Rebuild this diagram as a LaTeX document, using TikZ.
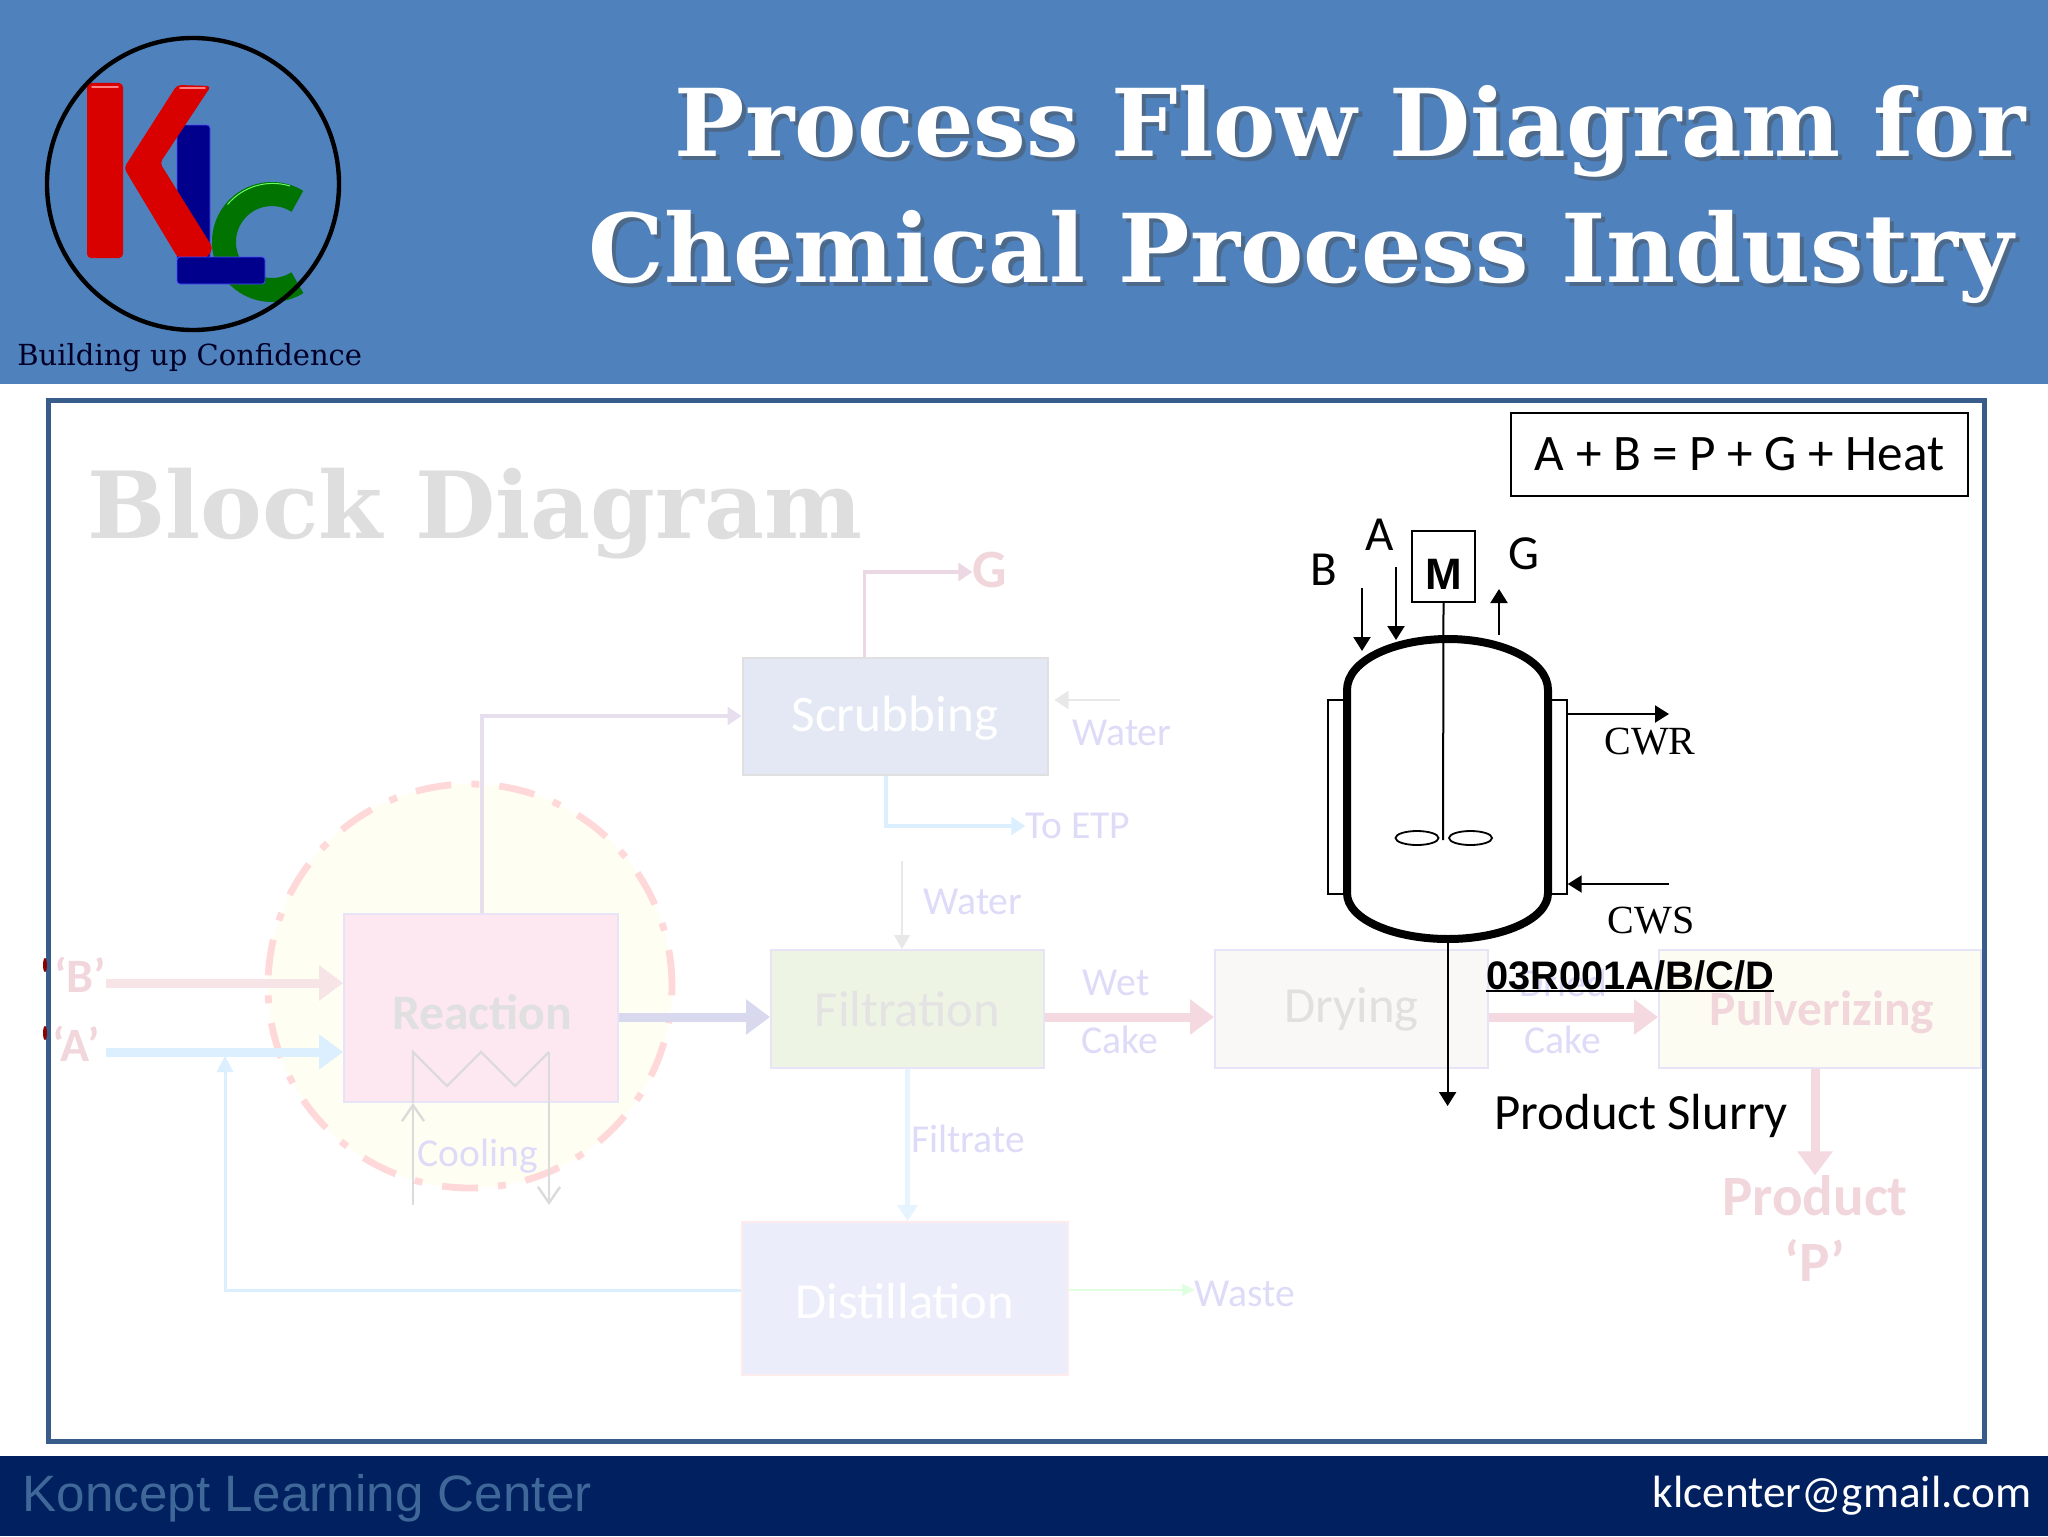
\documentclass[tikz,border=0pt]{standalone}
\usepackage{fontspec}
\setmainfont{Carlito}
\newfontfamily\arialf{Liberation Sans}
\newfontfamily\timesf{Liberation Serif}
\newfontfamily\bookf{DejaVu Serif}
\usetikzlibrary{arrows.meta,shapes.geometric}
\definecolor{hdr}{HTML}{4F81BD}
\definecolor{ftr}{HTML}{002060}
\definecolor{frm}{HTML}{385D8A}
\definecolor{lbl}{HTML}{DEDBF8}
\definecolor{bdr}{HTML}{E6E4F6}
\definecolor{palered}{HTML}{F1D6DC}
\tikzset{
 blockbox/.style={draw=#1,line width=1pt,inner sep=0pt,font=\fontsize{25.3}{30}\selectfont},
 lab/.style={text=lbl,inner sep=0pt,font=\fontsize{19.8}{23}\selectfont},
 fat/.style={draw=#1,line width=4.5pt,-{Triangle[length=12pt,width=17pt,fill=#1]}},
 med/.style={draw=#1,line width=1.6pt,-{Triangle[length=7pt,width=9pt,fill=#1]}},
 blk/.style={draw=black,line width=1.1pt,-{Triangle[length=7pt,width=8.5pt]}},
 ctext/.style={inner sep=0pt,font=\fontsize{24.5}{29}\selectfont},
 ttext/.style={inner sep=0pt,font=\timesf\fontsize{20}{24}\selectfont},
 boldpale/.style={text=#1,inner sep=0pt,font=\bfseries\fontsize{28.5}{33}\selectfont},
 titletext/.style={text=white,inner sep=0pt,anchor=base east,font=\bookf\bfseries\fontsize{#1}{54}\selectfont},
}
\begin{document}
\begin{tikzpicture}[x=0.5pt,y=-0.5pt]
\useasboundingbox (0,0) rectangle (2048,1536);
\fill[white] (0,0) rectangle (2048,1536);
% header and footer
\fill[hdr] (0,0) rectangle (2048,384);
\fill[ftr] (0,1456) rectangle (2048,1536);
% logo
\fill[blue!55!black,draw=blue!70!white,line width=.4pt,rounded corners=1.5pt] (177,125) rectangle (210,262);
\draw[green!45!black,line width=12pt] (297.4,201.3) arc[start angle=58,end angle=302,radius=24pt];
\draw[green!60!white,line width=.5pt] (290,186) arc[start angle=73,end angle=140,radius=29.5pt];
\fill[red!85!black,rounded corners=2pt] (87,83) rectangle (123,258);
\fill[red!85!black,rounded corners=2pt] (177,85) -- (211,86) -- (160,163) -- (213,248) -- (207,258) -- (178,258) -- (124,168) -- cycle;
\draw[red!50!white,line width=.8pt,line cap=round] (92,87) -- (118,87);
\draw[red!50!white,line width=.8pt,line cap=round] (180,88) -- (205,88);
\fill[blue!55!black,draw=blue!70!white,line width=.4pt,rounded corners=1.5pt] (177,257) rectangle (265,284);
\node[draw=black,line width=2.2pt,circle,minimum size=146pt,inner sep=0pt] (logo) at (193,184) {};
\node[inner sep=0pt,anchor=base west,text=black!85!blue,font=\bookf\fontsize{14.5}{17}\selectfont] (tag) at (17,365) {Building up Confidence};
% title
\node[titletext=46.8,text=black!70,opacity=.45] (titleAs) at (2030,160) {Process Flow Diagram for};
\node[titletext=47.5,text=black!70,opacity=.45] (titleBs) at (2018,286) {Chemical Process Industry};
\node[titletext=46.8] (titleA) at (2026,156) {Process Flow Diagram for};
\node[titletext=47.5] (titleB) at (2014,282) {Chemical Process Industry};
% frame
\draw[frm,line width=2.5pt] (48,400) rectangle (1984,1441);
% pale block diagram
\node[inner sep=0pt,anchor=west,text=black!13,font=\bookf\bfseries\fontsize{46.3}{54}\selectfont] (bd) at (87,514) {Block Diagram};
\node[circle,draw=none,fill=yellow!5,minimum size=202pt,inner sep=0pt] (zonefill) at (470,986) {};
\draw[draw=red!15,line width=3.4pt,dash pattern=on 18pt off 10pt on 4pt off 10pt] (470,986) circle[radius=101pt];
\definecolor{fR}{HTML}{FDE7F0}
\definecolor{fS}{HTML}{E3E8F4}
\definecolor{fF}{HTML}{EEF4E4}
\definecolor{fD}{HTML}{F9F8F6}
\definecolor{fP}{HTML}{FDFCF3}
\definecolor{fT}{HTML}{ECEDFA}
\node[blockbox=bdr,fill=fR,minimum width=137pt,minimum height=94pt] (reaction) at (481,1008) {};
\node[blockbox=black!12,fill=fS,minimum width=152.5pt,minimum height=58.5pt] (scrub) at (895,716.5) {};
\node[inner sep=0pt,text=white,font=\fontsize{25.6}{30}\selectfont] (scrublab) at (895,718) {Scrubbing};
\node[blockbox=bdr,fill=fF,minimum width=136.5pt,minimum height=59pt,text=black!11] (filt) at (907.5,1009) {Filtration};
\node[blockbox=bdr,fill=fD,minimum width=136.5pt,minimum height=59pt,text=black!12] (dry) at (1351.5,1009) {Drying};
\node[blockbox=bdr,fill=fP,minimum width=161pt,minimum height=59pt] (pulv) at (1820,1009) {};
\node[inner sep=0pt,text=palered,font=\bfseries\fontsize{24.7}{29}\selectfont] (pulvlab) at (1822,1012) {Pulverizing};
\node[blockbox=red!8,fill=fT,minimum width=163pt,minimum height=76.5pt] (dist) at (905,1298.5) {};
\node[inner sep=0pt,text=white,font=\fontsize{25.3}{30}\selectfont] (distlab) at (905,1301) {Distillation};
\node[inner sep=0pt,text=black!12,font=\bfseries\fontsize{24.8}{29}\selectfont] (reactlab) at (482,1012) {Reaction};
% pale labels
\node[boldpale=palered,font=\bfseries\fontsize{27}{32}\selectfont] (gout) at (990,570) {G};
\node[boldpale=palered,font=\bfseries\fontsize{24}{28}\selectfont] (feedBl) at (80,975) {‘B’};
\node[boldpale=palered,font=\bfseries\fontsize{24}{28}\selectfont] (feedAl) at (76,1044) {‘A’};
\node[boldpale=palered] (prod) at (1815,1196) {Product};
\node[boldpale=palered] (prodp) at (1815,1260) {‘P’};
\node[lab] (water1) at (1122,733) {Water};
\node[lab] (toetp) at (1078,826) {To ETP};
\node[lab] (water2) at (973,902) {Water};
\node[lab] (wet) at (1116,983) {Wet};
\node[lab] (cake1) at (1120,1040) {Cake};
\node[lab] (dried) at (1563,983) {Dried};
\node[lab] (cake2) at (1563,1040) {Cake};
\node[lab] (filtrate) at (968,1139) {Filtrate};
\node[lab] (waste) at (1245,1294) {Waste};
\node[lab] (cooling) at (478,1156) {Cooling};
% free ends
\coordinate (bstart) at (106,983);
\coordinate (astart) at (106,1052);
\coordinate (recyc) at (225,1290);
\coordinate (ajoin) at (225,1056);
\coordinate (scrin) at (482,716);
\coordinate (gup) at (864.5,572);
\coordinate (watA) at (1120,700);
\coordinate (etpc) at (886,826);
\coordinate (watB) at (902,861);
\coordinate (mainline) at (1000,1017);
\coordinate (coolin) at (413,1205);
\coordinate (coolhead) at (413,1103);
\coordinate (c1) at (413,1052);
\coordinate (c2) at (447,1086);
\coordinate (c3) at (481,1052);
\coordinate (c4) at (515,1086);
\coordinate (c5) at (549,1052);
\coordinate (coolout) at (549,1205);
% pale connectors
\definecolor{cB}{HTML}{F6E4E6}
\definecolor{cA}{HTML}{DCEFFF}
\definecolor{cM}{HTML}{D8D8EE}
\definecolor{cW}{HTML}{F4D9E0}
\definecolor{cS}{HTML}{E8DFEE}
\definecolor{cG}{HTML}{EBD8E4}
\draw[fat=cB] (bstart) -- (reaction.west |- bstart);
\draw[fat=cA] (astart) -- (reaction.west |- astart);
\draw[draw=cA,line width=1.5pt,-{Triangle[length=8pt,width=8pt,fill=cA]}] (dist.west |- recyc) -- (recyc) -- (ajoin);
\draw[fat=cM] (reaction.east |- mainline) -- (filt.west |- mainline);
\draw[med=cS] (reaction.north -| scrin) -- (scrin) -- (scrub.west |- scrin);
\draw[med=cG] (scrub.north -| gup) -- (gup) -- (gup -| gout.west) ;
\draw[draw=black!9,line width=1.2pt,-{Triangle[length=7pt,width=9pt,fill=black!9]}] (watA) -- ([xshift=3pt]scrub.east |- watA);
\draw[med=cA] (scrub.south -| etpc) -- (etpc) -- (toetp.west);
\draw[draw=black!9,line width=.7pt,-{Triangle[length=7pt,width=8pt,fill=black!9]}] (watB) -- (filt.north -| watB);
\draw[fat=cW] (filt.east |- mainline) -- (dry.west |- mainline);
\draw[fat=cW] (dry.east |- mainline) -- (pulv.west |- mainline);
\draw[fat=cW] (pulv.south -| prod) -- (prod.north);
\draw[draw=cA!70!white,line width=2.5pt,-{Triangle[length=8pt,width=10pt,fill=cA!70!white]}] (filt.south) -- (dist.north -| filt.south);
\draw[draw=green!12,line width=.8pt,-{Triangle[length=6pt,width=6pt,fill=green!12]}] (dist.east |- recyc) -- (waste.west |- recyc);
\draw[draw=black!14,line width=1.2pt,-{Straight Barb[length=8pt,width=11pt]}] (coolin) -- (coolhead);
\draw[draw=black!14,line width=1.2pt] (coolhead) -- (c1) -- (c2) -- (c3) -- (c4) -- (c5);
\draw[draw=black!14,line width=1.2pt,-{Straight Barb[length=8pt,width=11pt]}] (c5) -- (coolout);
% specks of the opening quotes, showing at the frame
\fill[red!55!black] (45,965) ellipse[x radius=2,y radius=7];
\fill[red!55!black] (45,1033) ellipse[x radius=2,y radius=7];
% reaction equation
\node[draw=black,line width=1pt,fill=white,minimum width=228.5pt,minimum height=41.5pt,inner sep=0pt,font=\fontsize{25.6}{30}\selectfont] (eq) at (1739.5,454.5) {A + B = P + G + Heat};
% reactor
\node[draw=black,line width=.7pt,fill=white,minimum width=9pt,minimum height=97pt,inner sep=0pt] (jackL) at (1337,797) {};
\node[draw=black,line width=.7pt,fill=white,minimum width=9pt,minimum height=97pt,inner sep=0pt] (jackR) at (1558,797) {};
\draw[line width=4pt,draw=black,fill=white] (1347,690) .. controls (1347,660) and (1395,639) .. (1448,639) .. controls (1500,639) and (1548,660) .. (1548,690) -- (1548,893) .. controls (1548,920) and (1500,939) .. (1448,939) .. controls (1395,939) and (1347,920) .. (1347,893) -- cycle;
\node[draw=black,line width=1pt,fill=white,minimum width=31.5pt,minimum height=35.5pt,inner sep=0pt] (motor) at (1443.5,566.5) {};
\node[inner sep=0pt,font=\arialf\bfseries\fontsize{22}{26}\selectfont] (mlab) at (1444,574) {M};
\node[draw=black,line width=.9pt,ellipse,minimum width=21.5pt,minimum height=7pt,inner sep=0pt] (impL) at (1417,838) {};
\node[draw=black,line width=.9pt,ellipse,minimum width=21.5pt,minimum height=7pt,inner sep=0pt] (impR) at (1470.5,838) {};
\coordinate (shaftend) at (1443,840);
\draw[black,line width=1pt] (motor.south) -- (shaftend);
\node[ctext] (lbB) at (1324,570) {B};
\node[ctext] (lbA) at (1380,535) {A};
\node[ctext] (lbG) at (1524,554) {G};
\coordinate (inB) at (1362,588);
\coordinate (inBe) at (1362,651);
\coordinate (inA) at (1396,567);
\coordinate (inAe) at (1396,640);
\coordinate (outG) at (1499,635);
\coordinate (outGe) at (1499,589);
\draw[blk] (inB) -- (inBe);
\draw[blk] (inA) -- (inAe);
\draw[blk] (outG) -- (outGe);
\coordinate (cwrE) at (1669,714);
\coordinate (cwsS) at (1669,884);
\draw[blk] (jackR.east |- cwrE) -- (cwrE);
\draw[blk] (cwsS) -- (jackR.east |- cwsS);
\node[ttext] (cwr) at (1650,742) {CWR};
\node[ttext] (cws) at (1651,921) {CWS};
\coordinate (vbot) at (1447.6,943);
\coordinate (vout) at (1447.6,1106);
\draw[blk] (vbot) -- (vout);
\node[inner sep=0pt,anchor=base west,font=\arialf\bfseries\fontsize{19.9}{23}\selectfont] (tagno) at (1486,989) {03R001A/B/C/D};
\draw[black,line width=1.2pt] ([yshift=-.5pt]tagno.south west) -- ([yshift=-.5pt]tagno.south east);
\node[inner sep=0pt,anchor=west,font=\fontsize{25.4}{30}\selectfont] (slurry) at (1494,1116) {Product Slurry};
% footer text
\node[inner sep=0pt,anchor=west,text=hdr!80!black,font=\arialf\fontsize{25.6}{30}\selectfont] (klc) at (22,1498) {Koncept Learning Center};
\node[inner sep=0pt,anchor=east,text=white,font=\fontsize{22.6}{27}\selectfont] (mail) at (2032,1496) {klcenter@gmail.com};
\end{tikzpicture}
\end{document}
